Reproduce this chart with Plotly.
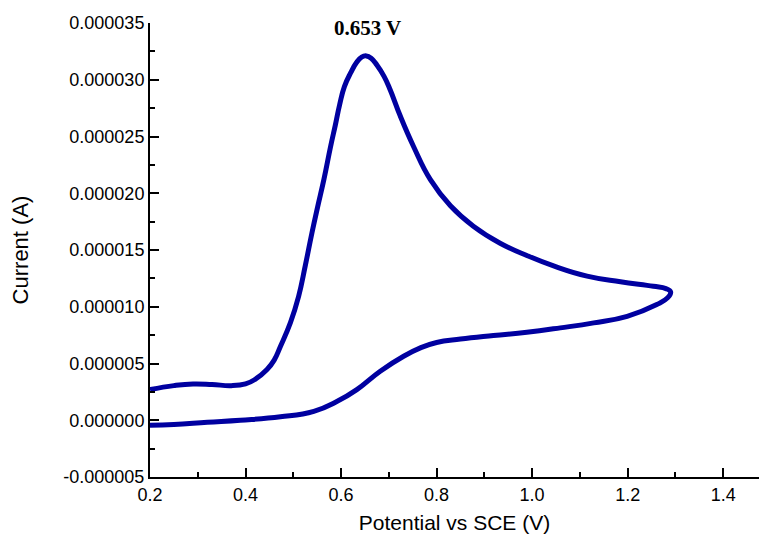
import plotly.graph_objects as go

# Forward (anodic) scan, potential in V vs SCE and current in microamps
e_forward = [0.200, 0.250, 0.290, 0.330, 0.370, 0.400, 0.420, 0.445, 0.460, 0.473,
             0.494, 0.511, 0.525, 0.539, 0.551, 0.564, 0.578, 0.588, 0.597, 0.607,
             0.620, 0.632, 0.643, 0.653, 0.663, 0.675, 0.690, 0.703, 0.724, 0.752,
             0.787, 0.829, 0.877, 0.933, 0.990, 1.045, 1.115, 1.185, 1.254, 1.280,
             1.290]
i_forward = [2.70, 3.05, 3.20, 3.15, 3.05, 3.20, 3.60, 4.47, 5.30, 6.50,
             8.60, 10.9, 13.6, 16.5, 18.8, 21.2, 24.1, 26.0, 27.8, 29.4,
             30.6, 31.5, 32.0, 32.1, 31.9, 31.3, 30.3, 29.1, 26.8, 24.1,
             21.2, 18.9, 17.1, 15.6, 14.5, 13.6, 12.7, 12.2, 11.8, 11.6,
             11.3]

# Reverse (cathodic) scan back to the starting potential
e_reverse = [1.284, 1.261, 1.199, 1.129, 1.059, 0.989, 0.919, 0.850, 0.800, 0.766,
             0.731, 0.682, 0.633, 0.592, 0.543, 0.473, 0.389, 0.320, 0.250, 0.200]
i_reverse = [10.8, 10.2, 9.16, 8.58, 8.14, 7.75, 7.46, 7.15, 6.85, 6.38,
             5.64, 4.32, 2.70, 1.67, 0.79, 0.30, 0.00, -0.18, -0.38, -0.45]

peak_potential = 0.653
peak_label = "0.653 V"

potential = e_forward + e_reverse
current = [v * 1e-6 for v in i_forward + i_reverse]
peak_current = max(current)

x_ticks = [0.2, 0.4, 0.6, 0.8, 1.0, 1.2, 1.4]
y_ticks = [-5e-6, 0, 5e-6, 10e-6, 15e-6, 20e-6, 25e-6, 30e-6, 35e-6]

fig = go.Figure()
fig.add_trace(go.Scatter(
    x=potential, y=current, mode="lines",
    line=dict(color="#0000a0", width=5, shape="spline", smoothing=1.3),
    showlegend=False, hoverinfo="skip",
))

fig.add_annotation(
    x=peak_potential, y=peak_current, yshift=28, xshift=1,
    text="<b>" + peak_label + "</b>", showarrow=False,
    font=dict(family="Liberation Serif", size=21, color="black"),
)

axis_font = dict(family="Liberation Sans", size=18, color="black")
title_font = dict(family="Liberation Sans", size=21, color="black")

fig.update_xaxes(
    range=[0.2, 1.475], tickvals=x_ticks, ticktext=[f"{v:.1f}" for v in x_ticks],
    ticks="inside", ticklen=9, tickwidth=2, tickcolor="black",
    minor=dict(dtick=0.1, tick0=0.2, ticks="inside", ticklen=5, tickwidth=2, tickcolor="black"),
    showline=True, linecolor="black", linewidth=2, showgrid=False, zeroline=False,
    tickfont=axis_font,
    title=dict(text="Potential vs SCE (V)", font=title_font, standoff=12),
)
fig.update_yaxes(
    range=[-5e-6, 35e-6], tickvals=y_ticks, ticktext=[f"{v:.6f}" for v in y_ticks],
    ticks="inside", ticklen=9, tickwidth=2, tickcolor="black",
    minor=dict(dtick=2.5e-6, tick0=0, ticks="inside", ticklen=5, tickwidth=2, tickcolor="black"),
    showline=True, linecolor="black", linewidth=2, showgrid=False, zeroline=False,
    tickfont=axis_font,
    title=dict(text="Current (A)", font=dict(family="Liberation Sans", size=22, color="black"), standoff=29),
)

fig.update_layout(
    width=759, height=540,
    margin=dict(l=150, r=0, t=23, b=63),
    plot_bgcolor="white", paper_bgcolor="white",
)

fig.write_html("out.html")
